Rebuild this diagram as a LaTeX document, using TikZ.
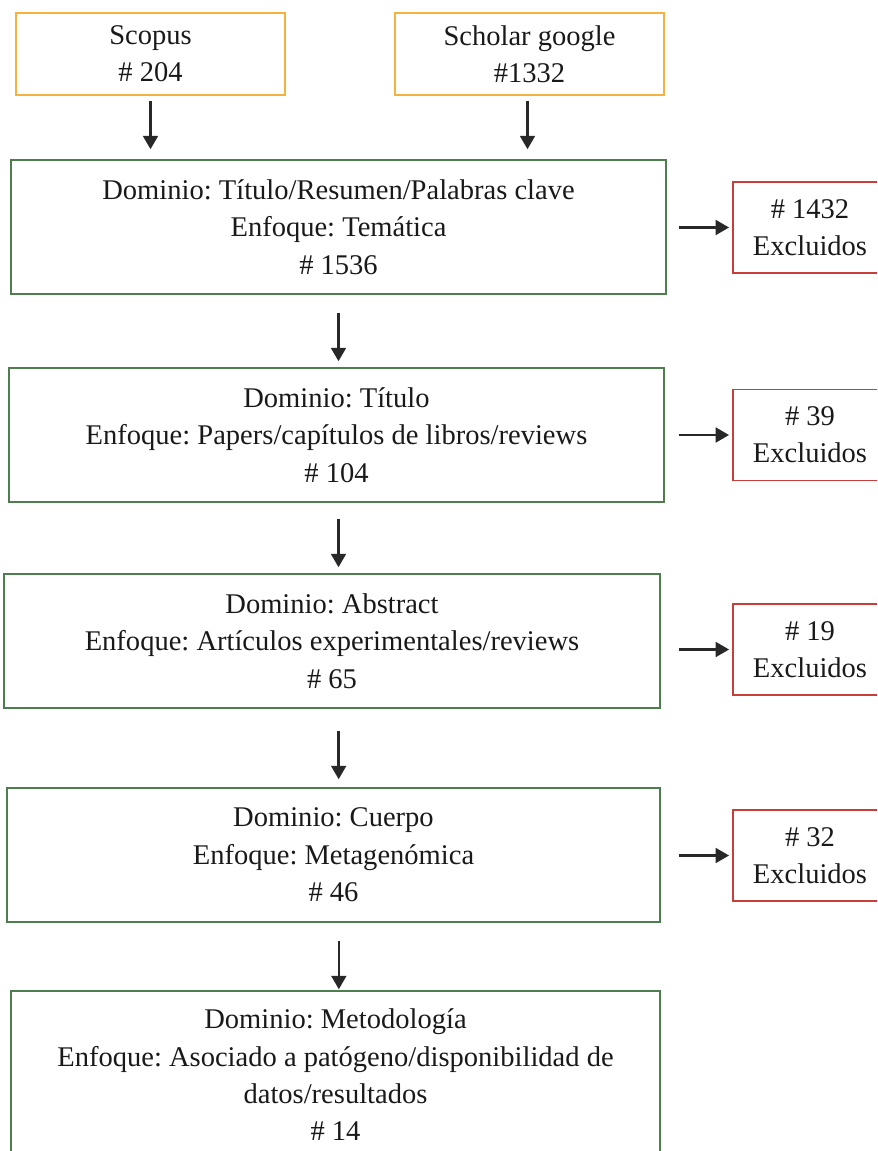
\documentclass[tikz,border=0pt]{standalone}
\usepackage{fontspec}
\setmainfont{Liberation Serif}
\frenchspacing
\usepackage{xcolor}
\usetikzlibrary{arrows.meta,positioning,calc}
\definecolor{srcorange}{RGB}{245,178,62}
\definecolor{stepgreen}{RGB}{78,125,78}
\definecolor{exclred}{RGB}{200,62,56}
\definecolor{arrowgray}{RGB}{40,40,40}
\definecolor{textgray}{RGB}{25,25,25}
\tikzset{
  base/.style={draw, line width=1.4pt, align=center, inner sep=0pt, text=textgray,
    font=\fontsize{21.4}{28}\selectfont},
  sourcebox/.style={base, draw=srcorange, minimum width=201.75pt, minimum height=61.5pt},
  filterbox/.style={base, draw=stepgreen, line width=1.1pt, minimum width=491.25pt, minimum height=100.5pt},
  exclbox/.style={base, draw=exclred, minimum width=115.5pt, minimum height=68.25pt},
  flow/.style={-{Triangle[length=10pt,width=11pt]}, line width=1.9pt, draw=arrowgray,
    shorten <=13.5pt, shorten >=4.5pt},
  sideflow/.style={flow, shorten <=9pt, shorten >=2.25pt}
}

\begin{document}
\begin{tikzpicture}[x=0.75pt, y=-0.75pt]
\useasboundingbox (0,0) rectangle (877,1151);
\clip (0,0) rectangle (877,1151);

% fuentes
\node[sourcebox] (scopus) at (150.5,54) {Scopus\\\# 204};
\node[sourcebox] (scholar) at (529.5,54) {Scholar google\\\#1332};

% etapas de filtrado
\node[filterbox] (titres) at (338.5,227) {Dominio: Título/Resumen/Palabras clave\\Enfoque: Temática\\\# 1536};
\node[filterbox] (titulo) at (336.5,435) {Dominio: Título\\Enfoque: Papers/capítulos de libros/reviews\\\# 104};
\node[filterbox, minimum width=492pt] (abstract) at (332,641) {Dominio: Abstract\\Enfoque: Artículos experimentales/reviews\\\# 65};
\node[filterbox, minimum width=489.75pt] (cuerpo) at (333.5,855) {Dominio: Cuerpo\\Enfoque: Metagenómica\\\# 46};
\node[filterbox, minimum width=486.75pt, minimum height=126pt] (metodo) at (335.5,1075)
  {Dominio: Metodología\\Enfoque: Asociado a patógeno/disponibilidad de\\datos/resultados\\\# 14};

% excluidos
\node[exclbox] (excl1) at (810,227.5) {\# 1432\\Excluidos};
\node[exclbox] (excl2) at (810,435) {\# 39\\Excluidos};
\node[exclbox] (excl3) at (810,649.5) {\# 19\\Excluidos};
\node[exclbox] (excl4) at (810,855.5) {\# 32\\Excluidos};

\draw[flow, shorten <=3.75pt, shorten >=7.5pt] (scopus.south) -- (scopus.south |- titres.north);
\draw[flow, shorten <=3.75pt, shorten >=7.5pt] ([xshift=-1.5pt]scholar.south) -- ([xshift=-1.5pt]scholar.south |- titres.north);

\draw[flow] (titres.south) -- (titres.south |- titulo.north);
\draw[flow, shorten <=12pt] ([xshift=1.5pt]titulo.south) -- ([xshift=1.5pt]titulo.south |- abstract.north);
\draw[flow, shorten <=16.5pt, shorten >=6pt] ([xshift=5pt]abstract.south) -- ([xshift=5pt]abstract.south |- cuerpo.north);
\draw[flow, shorten >=0.75pt] ([xshift=4pt]cuerpo.south) -- ([xshift=4pt]cuerpo.south |- metodo.north);

\draw[sideflow] (excl1.west -| titres.east) -- (excl1.west);
\draw[sideflow, shorten <=10.5pt] (excl2.west -| titulo.east) -- (excl2.west);
\draw[sideflow, shorten <=13.5pt] (excl3.west -| abstract.east) -- (excl3.west);
\draw[sideflow, shorten <=13.5pt] (excl4.west -| cuerpo.east) -- (excl4.west);
\end{tikzpicture}
\end{document}
